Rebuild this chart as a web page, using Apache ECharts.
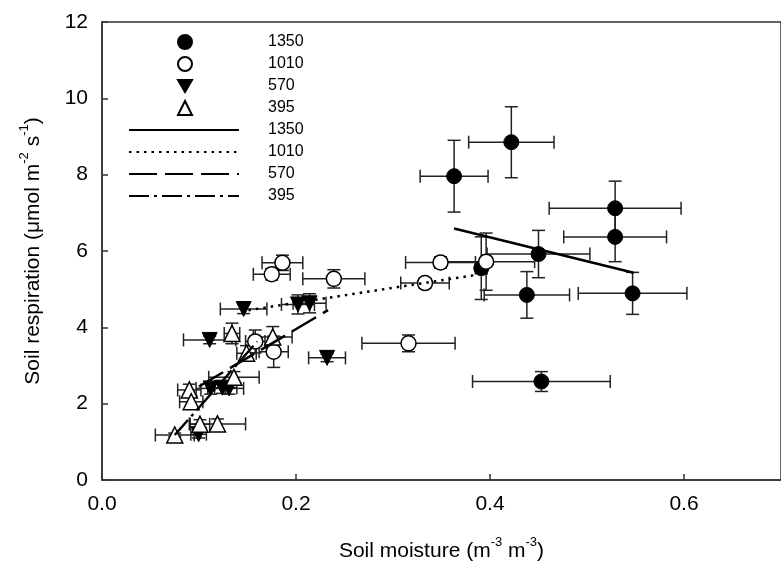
<!DOCTYPE html>
<html>
<head>
<meta charset="utf-8">
<script src="https://cdn.jsdelivr.net/npm/echarts@6/dist/echarts.min.js"></script>
<style>html,body{margin:0;padding:0;background:#fff;}#main{width:781px;height:568px;}</style>
</head>
<body>
<div id="main"></div>
<script>
// ---- data ----
const groups = ['1350', '1010', '570', '395'];
const xTicks = [0.0, 0.2, 0.4, 0.6];
const yTicks = [0, 2, 4, 6, 8, 10, 12];

const s1350_x    = [0.422, 0.363, 0.529, 0.529, 0.450, 0.391, 0.438, 0.547, 0.453];
const s1350_y    = [8.85, 7.96, 7.12, 6.37, 5.92, 5.55, 4.85, 4.89, 2.58];
const s1350_xerr = [0.044, 0.035, 0.068, 0.053, 0.053, 0.006, 0.044, 0.056, 0.071];
const s1350_yerr = [0.93, 0.94, 0.71, 0.65, 0.62, 0.82, 0.61, 0.55, 0.26];

const s1010_x    = [0.186, 0.175, 0.239, 0.349, 0.396, 0.333, 0.316, 0.158, 0.177];
const s1010_y    = [5.69, 5.39, 5.27, 5.70, 5.72, 5.16, 3.58, 3.63, 3.36];
const s1010_xerr = [0.021, 0.019, 0.032, 0.036, 0.050, 0.025, 0.048, 0.010, 0.015];
const s1010_yerr = [0.20, 0.15, 0.24, 0.15, 0.75, 0.13, 0.22, 0.30, 0.41];

const s570_x    = [0.0996, 0.112, 0.124, 0.131, 0.146, 0.111, 0.202, 0.214, 0.232];
const s570_y    = [1.20, 2.40, 2.42, 2.40, 4.48, 3.67, 4.60, 4.63, 3.20];
const s570_xerr = [0.008, 0.015, 0.015, 0.015, 0.024, 0.027, 0.017, 0.017, 0.019];
const s570_yerr = [0.10, 0.15, 0.15, 0.15, 0.12, 0.10, 0.25, 0.25, 0.10];

const s395_x    = [0.075, 0.101, 0.119, 0.090, 0.092, 0.136, 0.134, 0.149, 0.176];
const s395_y    = [1.18, 1.46, 1.47, 2.36, 2.05, 2.69, 3.84, 3.32, 3.75];
const s395_xerr = [0.020, 0.010, 0.029, 0.012, 0.012, 0.026, 0.008, 0.010, 0.020];
const s395_yerr = [0.05, 0.12, 0.13, 0.15, 0.15, 0.15, 0.27, 0.20, 0.27];

// regression line end points
const fit1350_x = [0.363, 0.548]; const fit1350_y = [6.59, 5.43];
const fit1010_x = [0.151, 0.385]; const fit1010_y = [4.45, 5.37];
const fit570_x  = [0.100, 0.233]; const fit570_y  = [2.45, 4.45];
const fit395_x  = [0.075, 0.160]; const fit395_y  = [1.18, 3.63];

// ---- build ----
const FONT = "'Liberation Sans', Arial, sans-serif";
const TRI_DOWN = 'path://M0,0L10,0L5,8.66Z';
function zip(xs, ys) { return xs.map((x, i) => [x, ys[i]]); }
function zip4(xs, ys, ex, ey) { return xs.map((x, i) => [x, ys[i], ex[i], ey[i]]); }

function renderErr(params, api) {
  const x = api.value(0), y = api.value(1), ex = api.value(2), ey = api.value(3);
  const l = api.coord([x - ex, y]), r = api.coord([x + ex, y]);
  const t = api.coord([x, y + ey]), b = api.coord([x, y - ey]);
  const h = 6.5;
  const st = { stroke: '#222', lineWidth: 1.5 };
  const ln = (x1, y1, x2, y2) => ({ type: 'line', shape: { x1, y1, x2, y2 }, style: st });
  return {
    type: 'group',
    children: [
      ln(l[0], l[1], r[0], r[1]),
      ln(t[0], t[1], b[0], b[1]),
      ln(l[0], l[1] - h, l[0], l[1] + h),
      ln(r[0], r[1] - h, r[0], r[1] + h),
      ln(t[0] - h, t[1], t[0] + h, t[1]),
      ln(b[0] - h, b[1], b[0] + h, b[1])
    ]
  };
}
function errSeries(name, d) {
  return { name: name, type: 'custom', renderItem: renderErr, data: d, z: 2,
           dimensions: ['x', 'y', 'ex', 'ey'], encode: { x: 0, y: 1 }, silent: true };
}

const richName = {
  n: { fontSize: 21, lineHeight: 26, fontFamily: FONT, color: '#000', verticalAlign: 'bottom' },
  sup: { fontSize: 13, lineHeight: 13, fontFamily: FONT, color: '#000', verticalAlign: 'top' }
};

const chart = echarts.init(document.getElementById('main'), null, { renderer: 'canvas' });
chart.setOption({
  animation: false,
  backgroundColor: '#fff',
  textStyle: { fontFamily: FONT },
  grid: { left: 102, top: 22, width: 687, height: 458, show: true, borderColor: '#333', borderWidth: 1.5 },
  xAxis: {
    type: 'value', min: 0, max: 0.7, interval: 0.2,
    axisLine: { show: true, lineStyle: { color: '#333', width: 1.5 } },
    axisTick: { inside: true, length: 6, lineStyle: { color: '#333', width: 1.5 } },
    axisLabel: { fontSize: 21, color: '#000', margin: 14, fontFamily: FONT, showMaxLabel: false,
      formatter: v => xTicks.some(t => Math.abs(t - v) < 1e-9) ? v.toFixed(1) : '' },
    splitLine: { show: false },
    name: '{n|Soil moisture (m}{sup|-3}{n| m}{sup|-3}{n|)}',
    nameLocation: 'middle', nameGap: 56,
    nameTextStyle: { rich: richName }
  },
  yAxis: {
    type: 'value', min: 0, max: 12, interval: 2,
    axisLine: { show: true, lineStyle: { color: '#333', width: 1.5 } },
    axisTick: { inside: true, length: 6, lineStyle: { color: '#333', width: 1.5 } },
    axisLabel: { fontSize: 21, color: '#000', margin: 14, fontFamily: FONT,
      formatter: v => yTicks.includes(v) ? String(v) : '' },
    splitLine: { show: false },
    name: '{n|Soil respiration (μmol m}{sup|-2}{n| s}{sup|-1}{n|)}',
    nameLocation: 'middle', nameGap: 58,
    nameTextStyle: { rich: richName }
  },
  legend: [
    {
      data: groups, orient: 'vertical', left: 177, top: 34, padding: 0,
      itemWidth: 14, itemHeight: 14, itemGap: 6, selectedMode: false,
      textStyle: { fontSize: 16, color: '#000', fontFamily: FONT, padding: [0, 0, 0, 71] }
    },
    {
      data: groups.map(g => 'fit' + g), orient: 'vertical', left: 128, top: 122, padding: 0,
      itemWidth: 110, itemHeight: 14, itemGap: 6, selectedMode: false,
      itemStyle: { opacity: 0 },
      formatter: n => n.replace('fit', ''),
      textStyle: { fontSize: 16, color: '#000', fontFamily: FONT, padding: [0, 0, 0, 24] }
    }
  ],
  series: [
    errSeries('eb1350', zip4(s1350_x, s1350_y, s1350_xerr, s1350_yerr)),
    errSeries('eb1010', zip4(s1010_x, s1010_y, s1010_xerr, s1010_yerr)),
    errSeries('eb570', zip4(s570_x, s570_y, s570_xerr, s570_yerr)),
    errSeries('eb395', zip4(s395_x, s395_y, s395_xerr, s395_yerr)),
    { name: '1350', type: 'scatter', z: 3, symbol: 'circle', symbolSize: 15,
      itemStyle: { color: '#000', borderColor: '#000', borderWidth: 1, opacity: 1 }, data: zip(s1350_x, s1350_y) },
    { name: '1010', type: 'scatter', z: 3, symbol: 'circle', symbolSize: 15,
      itemStyle: { color: '#fff', borderColor: '#000', borderWidth: 1.5, opacity: 1 }, data: zip(s1010_x, s1010_y) },
    { name: '570', type: 'scatter', z: 3, symbol: TRI_DOWN, symbolSize: 15,
      itemStyle: { color: '#000', borderColor: '#000', borderWidth: 1, opacity: 1 }, data: zip(s570_x, s570_y) },
    { name: '395', type: 'scatter', z: 3, symbol: 'triangle', symbolSize: 16,
      itemStyle: { color: '#fff', borderColor: '#000', borderWidth: 1.5, opacity: 1 }, data: zip(s395_x, s395_y) },
    { name: 'fit1350', type: 'line', z: 4, symbol: 'none', data: zip(fit1350_x, fit1350_y),
      itemStyle: { color: '#000' }, lineStyle: { color: '#000', width: 2.5, type: 'solid' } },
    { name: 'fit1010', type: 'line', z: 4, symbol: 'none', data: zip(fit1010_x, fit1010_y),
      itemStyle: { color: '#000' }, lineStyle: { color: '#000', width: 2.5, type: [2.5, 5] } },
    { name: 'fit570', type: 'line', z: 4, symbol: 'none', data: zip(fit570_x, fit570_y),
      itemStyle: { color: '#000' }, lineStyle: { color: '#000', width: 2.5, type: [28, 8] } },
    { name: 'fit395', type: 'line', z: 4, symbol: 'none', data: zip(fit395_x, fit395_y),
      itemStyle: { color: '#000' }, lineStyle: { color: '#000', width: 2.5, type: [20, 5, 3, 5] } }
  ]
});
</script>
</body>
</html>
